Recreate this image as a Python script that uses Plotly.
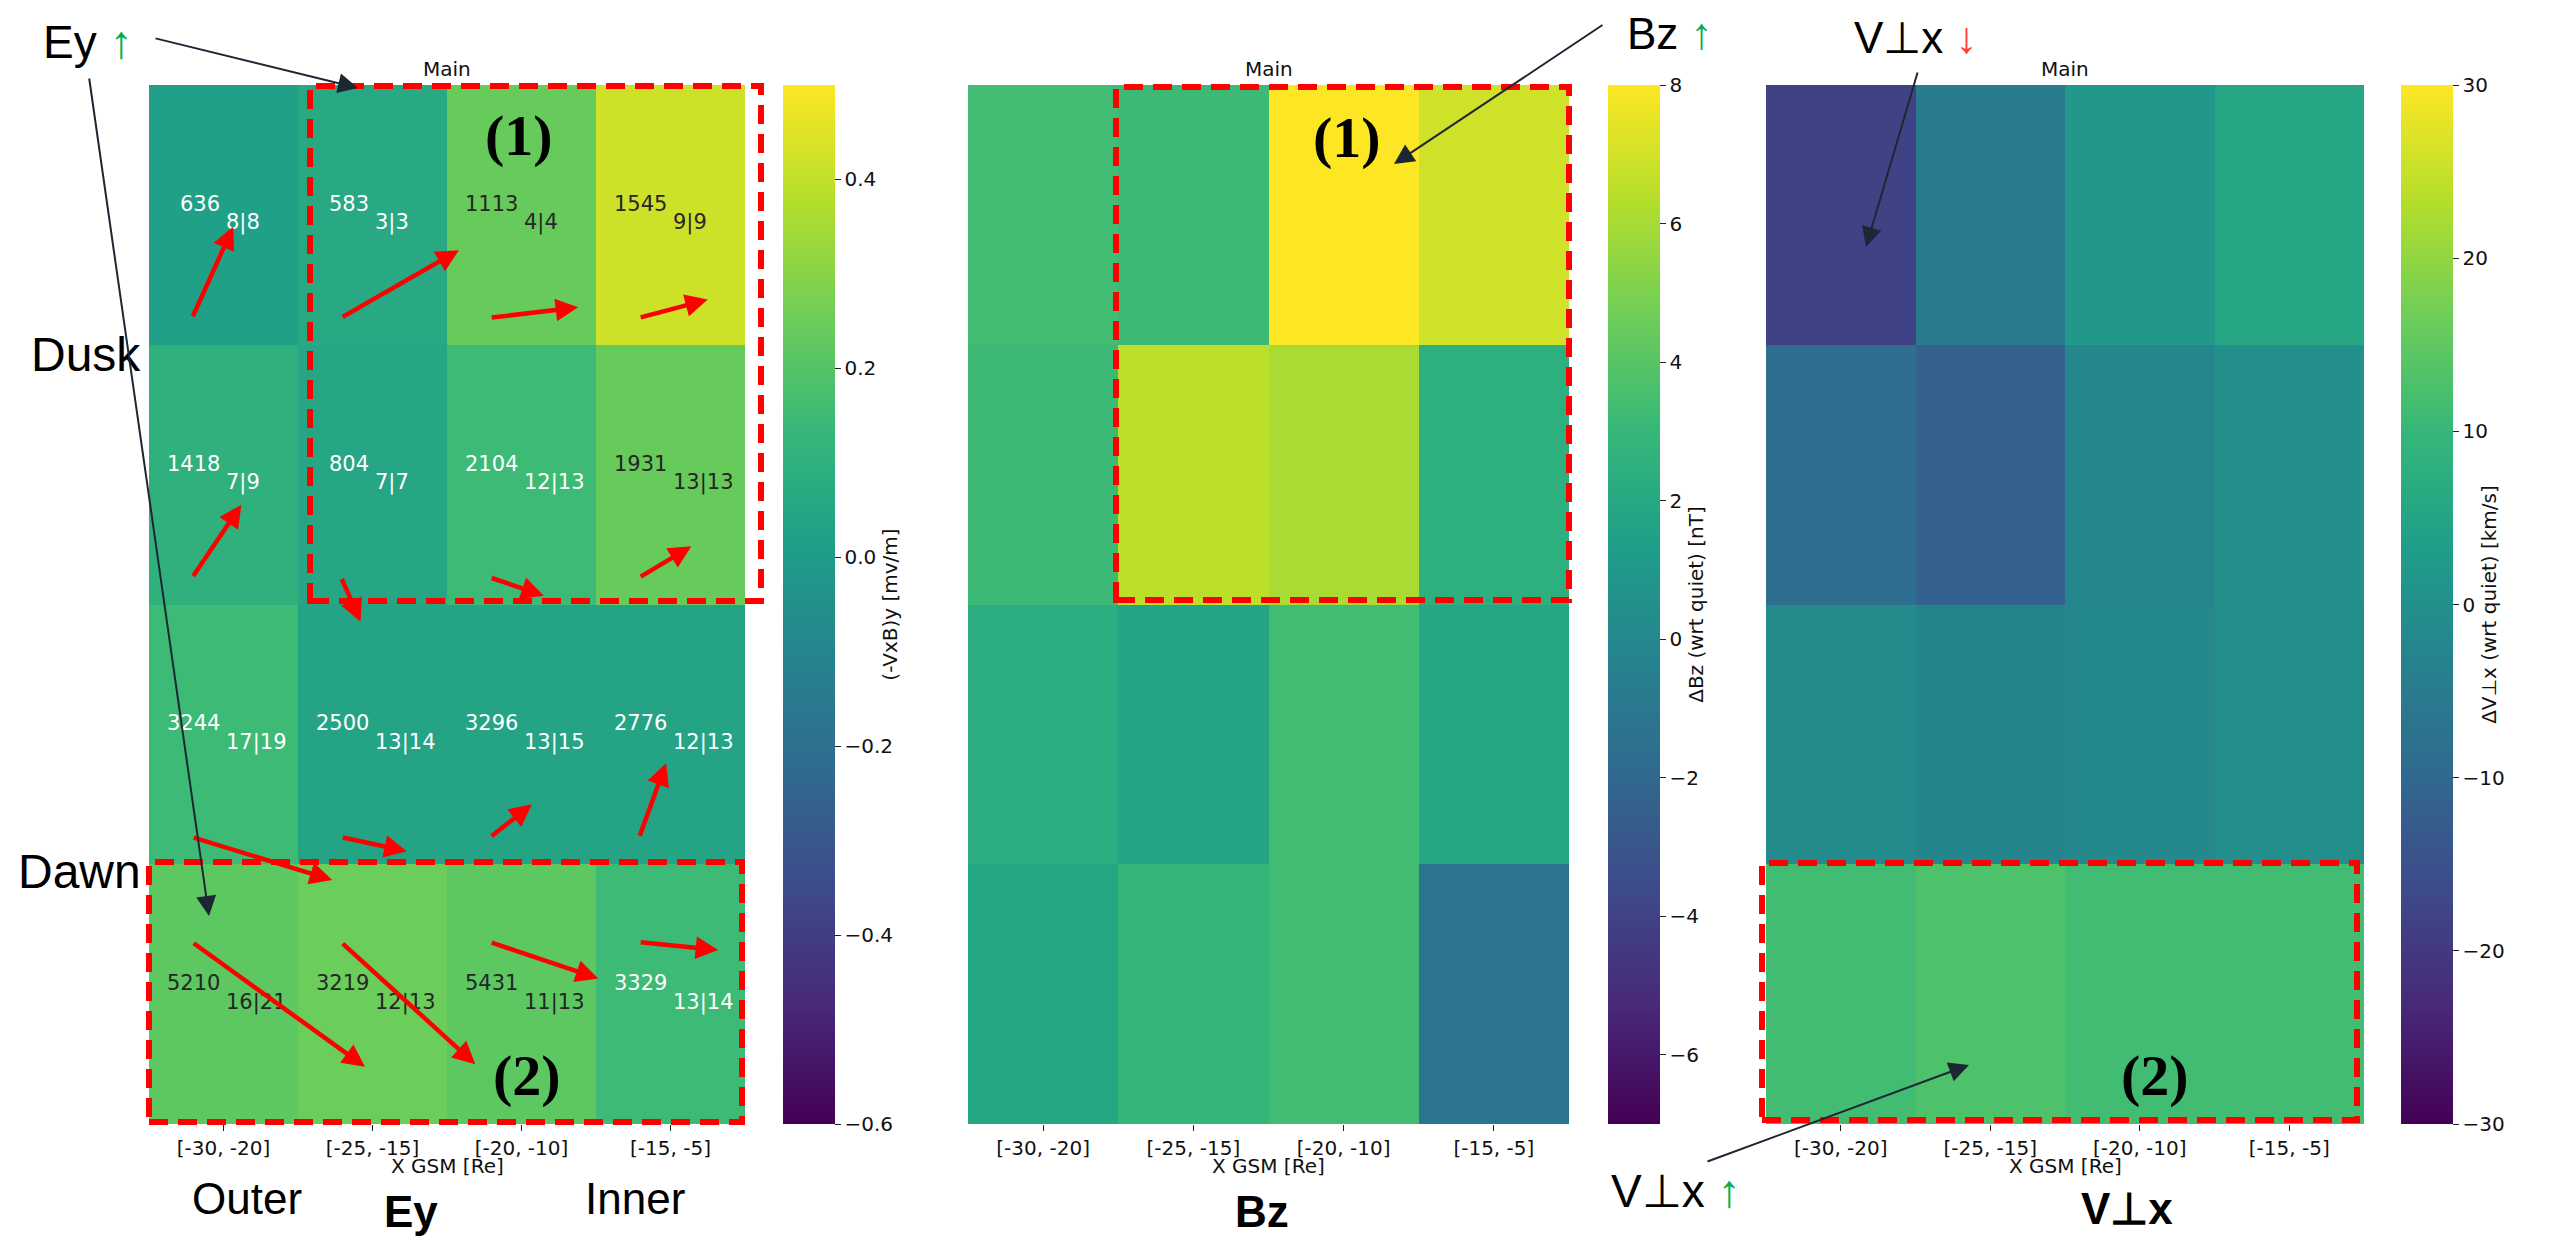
import plotly.graph_objects as go

W, H = 2552, 1239
OFF = 8  # page body margin of the html page


def px(x):
    return (x - OFF) / W


def py(y):
    return 1 - (y - OFF) / H


# ---------------- data ----------------
x_labels = ["[-30, -20]", "[-25, -15]", "[-20, -10]", "[-15, -5]"]
row_ids = [0, 1, 2, 3]  # top (dusk) -> bottom (dawn)

ey_values = [
    [0.02, 0.06, 0.24, 0.42],
    [0.10, 0.05, 0.15, 0.24],
    [0.15, 0.04, 0.04, 0.04],
    [0.22, 0.25, 0.22, 0.15],
]
bz_values = [
    [3.35, 3.2, 8.0, 6.95],
    [3.2, 6.5, 6.05, 2.45],
    [2.3, 1.7, 3.35, 1.85],
    [1.9, 2.9, 3.35, -1.1],
]
vx_values = [
    [-18.0, -4.8, 1.8, 5.4],
    [-8.4, -11.4, -2.4, 0.0],
    [-1.2, -2.6, -2.0, -0.2],
    [11.4, 12.9, 11.4, 11.4],
]
n_obs = [
    [636, 583, 1113, 1545],
    [1418, 804, 2104, 1931],
    [3244, 2500, 3296, 2776],
    [5210, 3219, 5431, 3329],
]
events = [
    ["8|8", "3|3", "4|4", "9|9"],
    ["7|9", "7|7", "12|13", "13|13"],
    ["17|19", "13|14", "13|15", "12|13"],
    ["16|21", "12|13", "11|13", "13|14"],
]
# flow vectors (cell units, u -> +X, v -> up)
flow_u = [
    [0.275, 0.79, 0.59, 0.46],
    [0.33, 0.13, 0.36, 0.35],
    [0.94, 0.44, 0.28, 0.18],
    [1.16, 0.90, 0.725, 0.53],
]
flow_v = [
    [0.35, 0.26, 0.04, 0.07],
    [0.28, -0.17, -0.07, 0.12],
    [-0.165, -0.054, 0.127, 0.285],
    [-0.48, -0.47, -0.14, -0.03],
]

FONT = "DejaVu Sans"
BIG = "Liberation Sans"

panels = [
    dict(z=ey_values, zmin=-0.6, zmax=0.5, title="(-VxB)y [mv/m]", dtick=0.2,
         fmt=".1f", xd=(149, 745), cbx=783),
    dict(z=bz_values, zmin=-7, zmax=8, title="ΔBz (wrt quiet) [nT]", dtick=2,
         fmt="d", xd=(968, 1569), cbx=1608),
    dict(z=vx_values, zmin=-30, zmax=30, title="ΔV⊥x (wrt quiet) [km/s]", dtick=10,
         fmt="d", xd=(1766, 2364), cbx=2401),
]

TOP, BOT = 85, 1124

fig = go.Figure()
layout_axes = {}
for i, p in enumerate(panels):
    sfx = "" if i == 0 else str(i + 1)
    fig.add_trace(go.Heatmap(
        z=p["z"], x=[0, 1, 2, 3], y=row_ids,
        colorscale="Viridis", zmin=p["zmin"], zmax=p["zmax"],
        xaxis="x" + sfx, yaxis="y" + sfx, hoverinfo="skip",
        colorbar=dict(
            x=px(p["cbx"]), xanchor="left", xpad=0,
            y=py((TOP + BOT) / 2), yanchor="middle", ypad=0,
            len=BOT - TOP, lenmode="pixels",
            thickness=52, thicknessmode="pixels",
            outlinewidth=0,
            tickmode="linear", tick0=0, dtick=p["dtick"], tickformat=p["fmt"],
            ticks="outside", ticklen=6, tickwidth=1.2, tickcolor="#222",
            tickfont=dict(family=FONT, size=20, color="#111"),
            title=dict(text=p["title"], side="right",
                       font=dict(family=FONT, size=20, color="#111")),
        ),
    ))
    layout_axes["xaxis" + sfx] = dict(
        domain=[px(p["xd"][0]), px(p["xd"][1])], anchor="y" + sfx,
        range=[-0.5, 3.5], tickmode="array", tickvals=[0, 1, 2, 3], ticktext=x_labels,
        ticks="outside", ticklen=6, tickwidth=1.2, tickcolor="#222",
        tickfont=dict(family=FONT, size=20, color="#111"),
        showgrid=False, zeroline=False, showline=False,
    )
    layout_axes["yaxis" + sfx] = dict(
        domain=[py(BOT), py(TOP)], anchor="x" + sfx,
        range=[3.5, -0.5], showticklabels=False, ticks="",
        showgrid=False, zeroline=False, showline=False,
    )

annotations = []
shapes = []

# "Main" titles and x-axis titles
for p in panels:
    cxp = px((p["xd"][0] + p["xd"][1]) / 2)
    annotations.append(dict(
        x=cxp, y=py(69), xref="paper", yref="paper",
        text="Main", showarrow=False, font=dict(family=FONT, size=20, color="#111"),
        xanchor="center", yanchor="middle"))
    annotations.append(dict(
        x=cxp, y=py(1166), xref="paper", yref="paper",
        text="X GSM [Re]", showarrow=False, font=dict(family=FONT, size=20, color="#111"),
        xanchor="center", yanchor="middle"))

# cell annotations and flow arrows (Ey panel)
tail_dy = [0.396, 0.396, 0.396, -0.2]
for r in range(4):
    for c in range(4):
        col = "#262626" if ey_values[r][c] > 0.2 else "#ffffff"
        annotations.append(dict(
            x=c - 0.013, y=r - 0.042, xref="x", yref="y", text=str(n_obs[r][c]),
            showarrow=False, xanchor="right", yanchor="middle",
            font=dict(family=FONT, size=21, color=col)))
        annotations.append(dict(
            x=c + 0.0, y=r + 0.031, xref="x", yref="y", text=events[r][c],
            showarrow=False, xanchor="left", yanchor="middle",
            font=dict(family=FONT, size=21, color=col)))
        tx = c - 0.21
        ty = r + tail_dy[r]
        annotations.append(dict(
            x=tx + flow_u[r][c], y=ty - flow_v[r][c], xref="x", yref="y",
            ax=tx, ay=ty, axref="x", ayref="y", text="", showarrow=True,
            arrowcolor="#ff0000", arrowwidth=4.5, arrowhead=2, arrowsize=1.0,
            standoff=0, startstandoff=0))

# red dashed boxes
boxes = [(310, 86, 761, 601), (149, 862, 742, 1122), (1116, 87, 1569, 600), (1762, 863, 2357, 1120)]
for (x0, y0, x1, y1) in boxes:
    shapes.append(dict(type="rect", xref="paper", yref="paper",
                       x0=px(x0), x1=px(x1), y0=py(y1), y1=py(y0),
                       line=dict(color="#ff0000", width=6, dash="19px,10px")))

# (1) / (2) labels
for txt, (cx, cy) in [("(1)", (519, 136)), ("(2)", (527, 1075)), ("(1)", (1347, 138)), ("(2)", (2155, 1075))]:
    annotations.append(dict(x=px(cx), y=py(cy), xref="paper", yref="paper", text="<b>%s</b>" % txt,
                            showarrow=False, xanchor="center", yanchor="middle",
                            font=dict(family="Liberation Serif", size=58, color="#000")))

GREEN = "#00b050"
RED = "#ff3b3b"
big_labels = [
    ("Ey <span style='color:%s'>↑</span>" % GREEN, 88, 42, 46),
    ("Bz <span style='color:%s'>↑</span>" % GREEN, 1670, 34, 44),
    ("V⊥x <span style='color:%s'>↓</span>" % RED, 1916, 37, 44),
    ("V⊥x <span style='color:%s'>↑</span>" % GREEN, 1675, 1191, 46),
    ("Dusk", 86, 354, 48),
    ("Dawn", 79, 871, 48),
    ("Outer", 247, 1198, 44),
    ("Inner", 635, 1198, 44),
    ("<b>Ey</b>", 411, 1211, 44),
    ("<b>Bz</b>", 1262, 1211, 44),
    ("<b>V⊥x</b>", 2127, 1208, 44),
]
for txt, cx, cy, sz in big_labels:
    annotations.append(dict(x=px(cx), y=py(cy), xref="paper", yref="paper", text=txt,
                            showarrow=False, xanchor="center", yanchor="middle",
                            font=dict(family=BIG, size=sz, color="#000")))

# black pointer arrows (tail -> head, pixels)
pointers = [((154, 38), (358, 88)), ((89, 77), (209, 916)), ((1604, 24), (1394, 164)),
            ((1918, 71), (1866, 247)), ((1706, 1162), (1969, 1065))]
for (tx, ty), (hx, hy) in pointers:
    annotations.append(dict(x=px(hx), y=py(hy), xref="paper", yref="paper", text="",
                            showarrow=True, ax=tx - hx, ay=ty - hy, axref="pixel", ayref="pixel",
                            arrowcolor="#1c2733", arrowwidth=2, arrowhead=2, arrowsize=2,
                            standoff=0, startstandoff=0))

fig.update_layout(
    width=W, height=H, autosize=False,
    margin=dict(l=0, r=0, t=0, b=0, autoexpand=False),
    paper_bgcolor="white", plot_bgcolor="white",
    showlegend=False,
    annotations=annotations, shapes=shapes,
    **layout_axes,
)

fig.write_html("out.html")
